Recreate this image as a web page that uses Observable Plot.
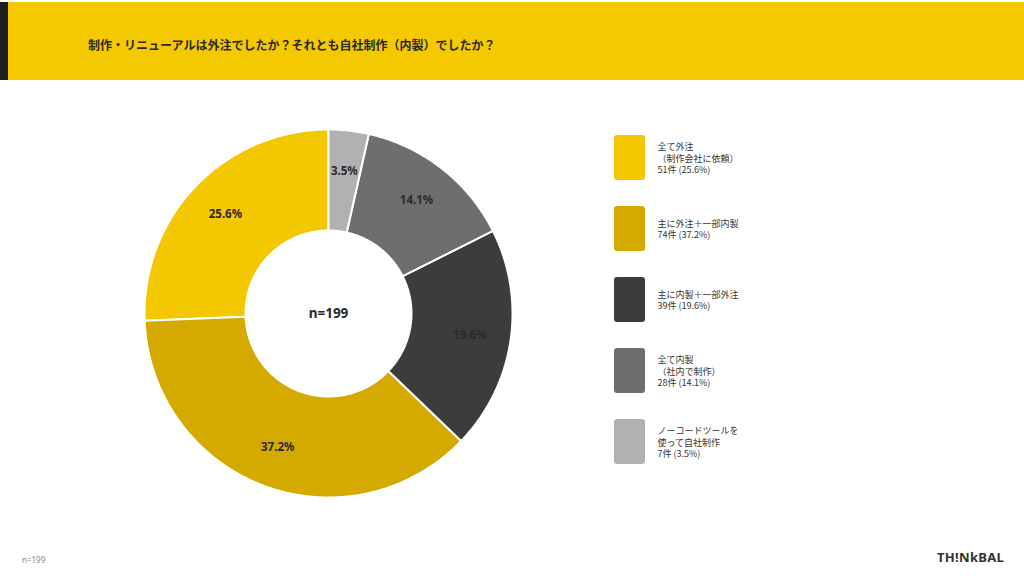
<!DOCTYPE html>
<html><head><meta charset="utf-8">
<script src="https://cdn.jsdelivr.net/npm/d3@7"></script>
<script src="https://cdn.jsdelivr.net/npm/@observablehq/plot@0.6"></script>
<style>
html,body{margin:0;padding:0;background:#fff;width:1024px;height:576px;overflow:hidden;font-family:"Noto Sans CJK JP","Noto Sans",sans-serif;}
#header{position:absolute;left:0;top:2px;width:1024px;height:78px;background:#F5C900;}
#bar{position:absolute;left:0;top:0;width:8px;height:78px;background:#1e1e1e;}
#title{position:absolute;left:88px;top:34px;font-size:12px;font-weight:700;color:#2a2a2a;white-space:nowrap;}
#donut{position:absolute;left:138px;top:123px;}
#legend{position:absolute;left:600px;top:122px;}
#foot{position:absolute;left:22px;top:554px;font-size:8px;color:#888;font-family:"Noto Sans",sans-serif;}
#logo{position:absolute;left:937px;top:548px;font-size:13px;font-weight:700;color:#333;font-family:"Noto Sans",sans-serif;letter-spacing:0.3px;}
</style></head>
<body>
<div id="header"><div id="bar"></div><div id="title">制作・リニューアルは外注でしたか？それとも自社制作（内製）でしたか？</div></div>
<div id="donut"></div>
<div id="legend"></div>
<div id="foot">n=199</div>
<div id="logo">TH!NkBAL</div>
<script>
const categories = ["全て外注（制作会社に依頼）","主に外注＋一部内製","主に内製＋一部外注","全て内製（社内で制作）","ノーコードツールを使って自社制作"];
const legendLabels = ["全て外注\n（制作会社に依頼）","主に外注＋一部内製","主に内製＋一部外注","全て内製\n（社内で制作）","ノーコードツールを\n使って自社制作"];
const counts = [51, 74, 39, 28, 7];
const percents = ["25.6%","37.2%","19.6%","14.1%","3.5%"];
const total = 199;
const colors = ["#F4C800","#D4AA00","#3C3C3C","#6E6E6E","#B1B1B1"];

const R = 184, r = 83, labelR = 143, half = 190;
const sum = d3.sum(counts);
const pts = [];
const labels = [];
let cum = 0;
categories.forEach((c, i) => {
  const a0 = -cum / sum * 2 * Math.PI;
  const a1 = -(cum + counts[i]) / sum * 2 * Math.PI;
  const n = Math.max(4, Math.ceil(Math.abs(a1 - a0) / (Math.PI / 360)));
  for (let k = 0; k <= n; k++) { const a = a0 + (a1 - a0) * k / n; pts.push({c, x: R * Math.sin(a), y: R * Math.cos(a)}); }
  for (let k = n; k >= 0; k--) { const a = a0 + (a1 - a0) * k / n; pts.push({c, x: r * Math.sin(a), y: r * Math.cos(a)}); }
  const am = (a0 + a1) / 2;
  labels.push({c, x: labelR * Math.sin(am), y: labelR * Math.cos(am), t: percents[i]});
  cum += counts[i];
});

const donut = Plot.plot({
  width: 2 * half, height: 2 * half, margin: 0,
  x: {domain: [-half, half], axis: null},
  y: {domain: [-half, half], axis: null},
  color: {domain: categories, range: colors},
  style: {fontFamily: '"Noto Sans", sans-serif', background: "transparent"},
  marks: [
    Plot.line(pts, {x: "x", y: "y", z: "c", fill: "c", stroke: "#fff", strokeWidth: 2, curve: "linear-closed"}),
    Plot.text(labels, {x: "x", y: "y", text: "t", fontSize: 11.5, fontWeight: 700, fill: "#2b2b2b"}),
    Plot.text([`n=${total}`], {x: () => 0, y: () => 0, text: d => d, fontSize: 13.5, fontWeight: 700, fill: "#2b2b2b"})
  ]
});
document.getElementById("donut").appendChild(donut);

const legendData = categories.map((c, i) => ({c, t: `${legendLabels[i]}\n${counts[i]}件 (${percents[i]})`}));
const legend = Plot.plot({
  width: 260, height: 355, margin: 0,
  x: {domain: [0, 260], axis: null},
  y: {type: "band", domain: categories, range: [0, 355], paddingInner: 26/71, paddingOuter: 13/71, axis: null},
  color: {domain: categories, range: colors},
  style: {fontFamily: '"Noto Sans CJK JP", sans-serif', background: "transparent"},
  marks: [
    Plot.barX(legendData, {x1: () => 14, x2: () => 45, y: "c", fill: "c", rx: 3}),
    Plot.text(legendData, {x: () => 57, y: "c", text: "t", textAnchor: "start", fontSize: 9, lineHeight: 1.28, fill: "#333"})
  ]
});
document.getElementById("legend").appendChild(legend);
</script>
</body></html>
